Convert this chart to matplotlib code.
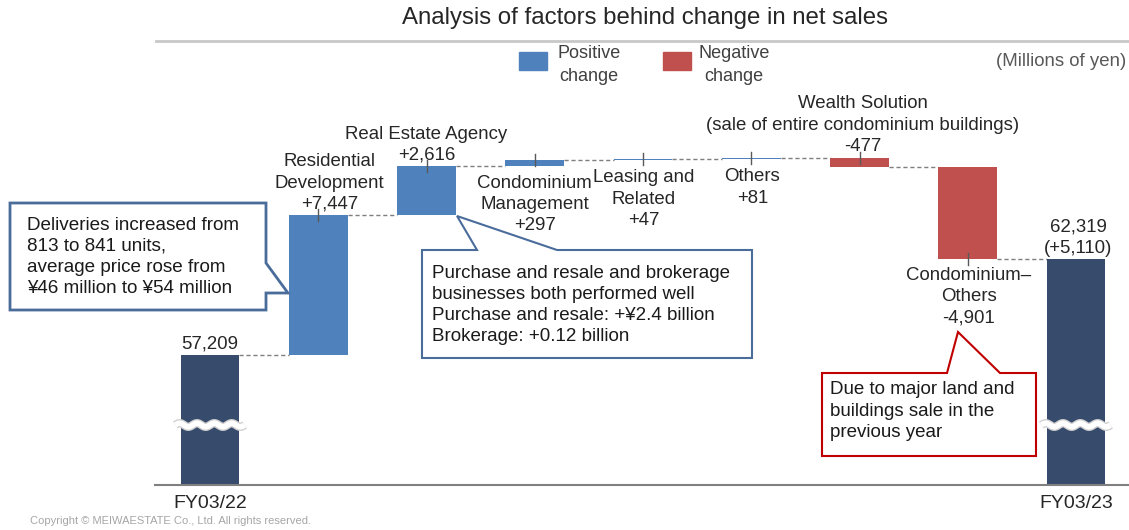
import numpy as np
import matplotlib
matplotlib.use("Agg")
import matplotlib.pyplot as plt
from matplotlib.patches import Polygon, Rectangle

plt.rcParams['font.family'] = ['Liberation Sans', 'DejaVu Sans']

# data (millions of yen)
labels = ["FY03/22", "Residential\nDevelopment", "Real Estate Agency", "Condominium\nManagement",
          "Leasing and\nRelated", "Others", "Wealth Solution\n(sale of entire condominium buildings)",
          "Condominium\u2013\nOthers", "FY03/23"]
start_value = 57209
changes = [7447, 2616, 297, 47, 81, -477, -4901]
end_value = 62319
value_texts = ["57,209", "+7,447", "+2,616", "+297", "+47", "+81", "-477", "-4,901", "62,319\n(+5,110)"]

W, H = 1129, 530
fig = plt.figure(figsize=(W / 100, H / 100), dpi=100)
fig.patch.set_facecolor('white')

def px(x, y):
    # pixel (from top-left) -> figure fraction
    return (x / W, 1 - y / H)

NAVY = '#374B6C'
BLUE = '#4F81BD'
RED = '#C0504D'
TXT = '#262626'

# axes: baseline at y=485, bars spaced ~108px
ax_left, ax_right, ax_bottom, ax_top = 155, 1129, 485, 42
ax = fig.add_axes([ax_left / W, 1 - ax_bottom / H, (ax_right - ax_left) / W, (ax_bottom - ax_top) / H])
k = 0.0188  # px per million yen
ymin = start_value - (ax_bottom - 355) / k
ymax = ymin + (ax_bottom - ax_top) / k
ax.set_ylim(ymin, ymax)
step = 108.25
ax.set_xlim(-(210 - ax_left) / step, (ax_right - 210) / step)

n = len(labels)
x = np.arange(n)
bw = 0.545

# cumulative levels: levels[i] = level after bar i
levels = [start_value]
for c in changes:
    levels.append(levels[-1] + c)

# totals
ax.bar([0, n - 1], [start_value - ymin, end_value - ymin], bottom=ymin, width=bw, color=NAVY, zorder=2)
# deltas
for i, c in enumerate(changes):
    lo = min(levels[i], levels[i + 1])
    ax.bar(i + 1, abs(c), bottom=lo, width=bw, color=BLUE if c > 0 else RED, zorder=2)

# dashed connectors
for i in range(n - 1):
    ax.plot([i + bw / 2, i + 1 - bw / 2], [levels[i], levels[i]],
            ls=(0, (3, 2)), color='#7F7F7F', lw=1, zorder=1)

# small ticks at the bar edges
half = 6 / k
for i, c in enumerate(changes):
    top = max(levels[i], levels[i + 1])
    edge = levels[i + 1] if c == min(changes) else top
    ax.plot([i + 1, i + 1], [edge - half, edge + half], color='#595959', lw=1, zorder=3)

# axis break marks
y_brk = start_value - 70 / k
wx = np.linspace(-0.32, 0.32, 80)
wy = np.sin(wx / 0.64 * 2 * np.pi * 4) * 1.8 / k
for i in [0, n - 1]:
    ax.plot(i + wx, y_brk + wy, color='#D0D0D0', lw=6, zorder=3, solid_capstyle='butt')
    ax.plot(i + wx, y_brk + wy, color='white', lw=4, zorder=4, solid_capstyle='butt')

for s in ['top', 'right', 'left']:
    ax.spines[s].set_visible(False)
ax.spines['bottom'].set_color('#808080')
ax.spines['bottom'].set_linewidth(1.5)
ax.set_yticks([])
ax.set_xticks([0, n - 1])
ax.set_xticklabels([labels[0], labels[-1]], fontsize=14, color=TXT)
ax.tick_params(axis='x', length=0, pad=7)

# bar labels: (anchor edge, va, dx, dy)
fs = 13.4
spec = [
    ('top', 'bottom', 0, 3),
    ('top', 'bottom', 11, 2),
    ('top', 'bottom', 0, 2),
    ('bottom', 'top', 0, -9),
    ('bottom', 'top', 1, -9),
    ('bottom', 'top', 1, -9),
    ('top', 'bottom', 3, 3),
    ('bottom', 'top', 1, -8),
    ('top', 'bottom', 2, 2),
]
for i in range(n):
    if i == 0:
        lo, hi, txt = ymin, start_value, value_texts[0]
    elif i == n - 1:
        lo, hi, txt = ymin, end_value, value_texts[-1]
    else:
        lo, hi = sorted([levels[i - 1], levels[i]])
        txt = labels[i] + "\n" + value_texts[i]
    edge, va, dx, dy = spec[i]
    ax.annotate(txt, xy=(i, hi if edge == 'top' else lo), xytext=(dx, dy), textcoords='offset pixels',
                ha='center', va=va, fontsize=fs, color=TXT, linespacing=1.33, zorder=5)

# title and separator
fig.text(*px(645, 18), "Analysis of factors behind change in net sales", ha='center', va='center',
         fontsize=17.3, color=TXT)
fig.add_artist(plt.Line2D([156 / W, 1], [1 - 41 / H] * 2, color='#C8C8C8', lw=2))

# legend
fig.add_artist(Rectangle(px(519, 70), 28 / W, 18 / H, transform=fig.transFigure, color=BLUE))
fig.text(*px(589, 65), "Positive\nchange", ha='center', va='center', fontsize=13, color='#404040', linespacing=1.5)
fig.add_artist(Rectangle(px(663, 70), 28 / W, 18 / H, transform=fig.transFigure, color=RED))
fig.text(*px(734, 65), "Negative\nchange", ha='center', va='center', fontsize=13, color='#404040', linespacing=1.5)
fig.text(*px(1126, 61), "(Millions of yen)", ha='right', va='center', fontsize=13.4, color='#595959')

# callouts
def callout(points, color, lw):
    pts = [px(a, b) for a, b in points]
    fig.add_artist(Polygon(pts, closed=True, transform=fig.transFigure, facecolor='white',
                           edgecolor=color, lw=lw, zorder=6))

callout([(10, 203), (266, 203), (266, 263), (288, 293), (266, 293), (266, 310), (10, 310)], '#4A6C9B', 2)
fig.text(*px(27, 257), "Deliveries increased from\n813 to 841 units,\naverage price rose from\n\u00a546 million to \u00a554 million",
         ha='left', va='center', fontsize=13.6, color='#1A1A1A', linespacing=1.33, zorder=7)

callout([(422, 250), (477, 250), (457, 216), (557, 250), (752, 250), (752, 358), (422, 358)], '#4A6C9B', 1.5)
fig.text(*px(432, 305), "Purchase and resale and brokerage\nbusinesses both performed well\nPurchase and resale: +\u00a52.4 billion\nBrokerage: +0.12 billion",
         ha='left', va='center', fontsize=13.5, color='#1A1A1A', linespacing=1.3, zorder=7)

callout([(822, 373), (947, 373), (958, 332), (1000, 373), (1036, 373), (1036, 456), (822, 456)], '#C00000', 1.5)
fig.text(*px(830, 411), "Due to major land and\nbuildings sale in the\nprevious year",
         ha='left', va='center', fontsize=13.5, color='#1A1A1A', linespacing=1.33, zorder=7)

fig.text(*px(30, 521), "Copyright \u00a9 MEIWAESTATE Co., Ltd. All rights reserved.", ha='left', va='center',
         fontsize=8, color='#A6A6A6')

fig.savefig('out.png', dpi=100)
